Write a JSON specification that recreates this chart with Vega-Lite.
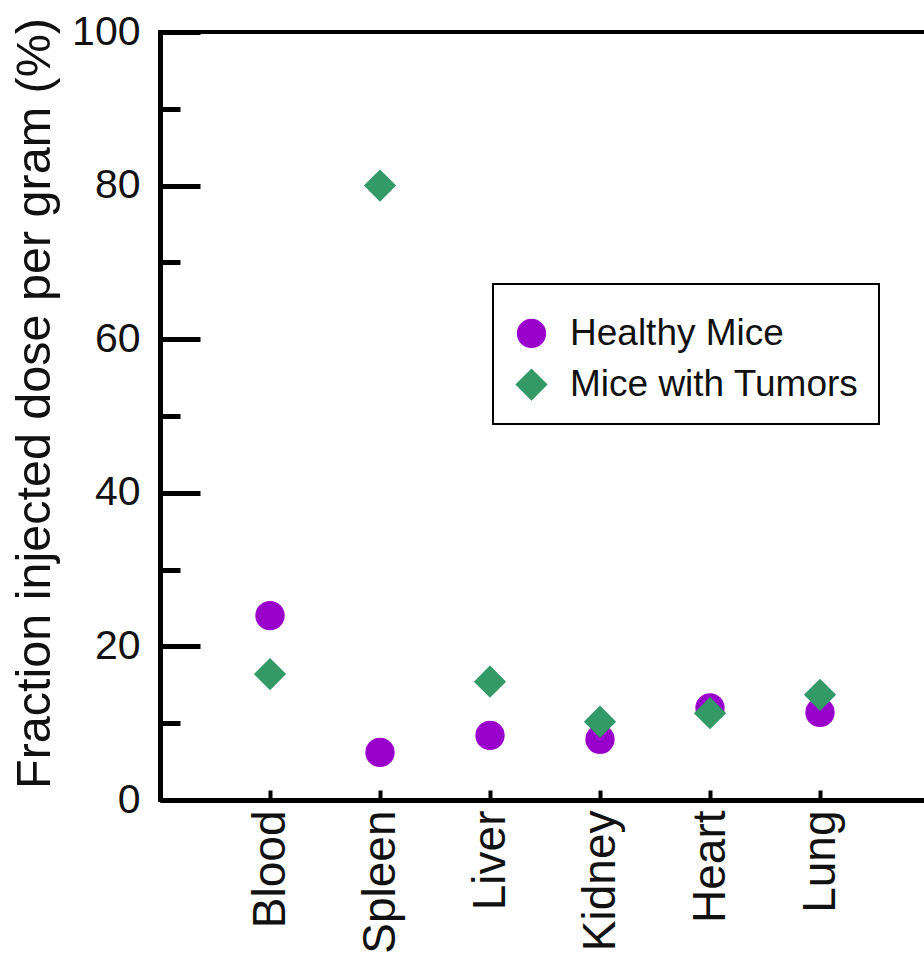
{
  "$schema": "https://vega.github.io/schema/vega-lite/v6.json",
  "autosize": "none",
  "width": 770,
  "height": 768,
  "padding": {"left": 160, "top": 32, "right": 0, "bottom": 155},
  "background": "white",
  "config": {
    "font": "Liberation Sans",
    "view": {"stroke": "black", "strokeWidth": 4},
    "legend": {"strokeWidth": 2}
  },
  "data": {
    "values": [
      {"organ": "Blood", "group": "Healthy Mice", "value": 24.0},
      {"organ": "Spleen", "group": "Healthy Mice", "value": 6.2},
      {"organ": "Liver", "group": "Healthy Mice", "value": 8.4},
      {"organ": "Kidney", "group": "Healthy Mice", "value": 7.9},
      {"organ": "Heart", "group": "Healthy Mice", "value": 12.0},
      {"organ": "Lung", "group": "Healthy Mice", "value": 11.4},
      {"organ": "Blood", "group": "Mice with Tumors", "value": 16.4},
      {"organ": "Spleen", "group": "Mice with Tumors", "value": 80.0},
      {"organ": "Liver", "group": "Mice with Tumors", "value": 15.4},
      {"organ": "Kidney", "group": "Mice with Tumors", "value": 10.2},
      {"organ": "Heart", "group": "Mice with Tumors", "value": 11.3},
      {"organ": "Lung", "group": "Mice with Tumors", "value": 13.7}
    ]
  },
  "mark": {"type": "point", "filled": true, "opacity": 1},
  "encoding": {
    "x": {
      "field": "organ",
      "type": "nominal",
      "sort": ["Blood", "Spleen", "Liver", "Kidney", "Heart", "Lung"],
      "scale": {"type": "point", "padding": 1},
      "axis": {
        "title": null,
        "domainColor": "black",
        "domainWidth": 5,
        "tickColor": "black",
        "tickWidth": 4,
        "tickSize": -10,
        "labelAngle": -90,
        "labelAlign": "right",
        "labelBaseline": "middle",
        "labelFontSize": 46,
        "labelColor": "#111111",
        "labelPadding": 20,
        "labelLimit": 300
      }
    },
    "y": {
      "field": "value",
      "type": "quantitative",
      "scale": {"domain": [0, 100], "nice": false},
      "axis": {
        "title": "Fraction injected dose per gram (%)",
        "titleFontSize": 48.5,
        "titleFontWeight": "normal",
        "titleColor": "#111111",
        "titlePadding": 12,
        "titleY": 371,
        "values": [0, 10, 20, 30, 40, 50, 60, 70, 80, 90, 100],
        "labelExpr": "datum.value % 20 === 0 ? datum.label : ''",
        "domainColor": "black",
        "domainWidth": 5,
        "tickColor": "black",
        "tickWidth": 5,
        "tickSize": {"condition": {"test": "datum.value % 20 === 0", "value": -40}, "value": -20},
        "labelFontSize": 41,
        "labelColor": "#111111",
        "labelPadding": 60,
        "grid": false
      }
    },
    "size": {
      "field": "group",
      "type": "nominal",
      "scale": {"domain": ["Healthy Mice", "Mice with Tumors"], "range": [860, 1040]},
      "legend": null
    },
    "color": {
      "field": "group",
      "type": "nominal",
      "scale": {"domain": ["Healthy Mice", "Mice with Tumors"], "range": ["#9900CC", "#339966"]},
      "legend": {
        "title": " ",
        "titleFontSize": 1,
        "titlePadding": 10,
        "orient": "none",
        "legendX": 333,
        "legendY": 252,
        "strokeColor": "black",
        "padding": 20,
        "symbolSize": 1150,
        "symbolOpacity": 1,
        "labelFontSize": 37,
        "labelColor": "#111111",
        "labelOffset": 20,
        "rowPadding": 13,
        "labelLimit": 400
      }
    },
    "shape": {
      "field": "group",
      "type": "nominal",
      "scale": {"domain": ["Healthy Mice", "Mice with Tumors"], "range": ["circle", "diamond"]}
    }
  }
}
